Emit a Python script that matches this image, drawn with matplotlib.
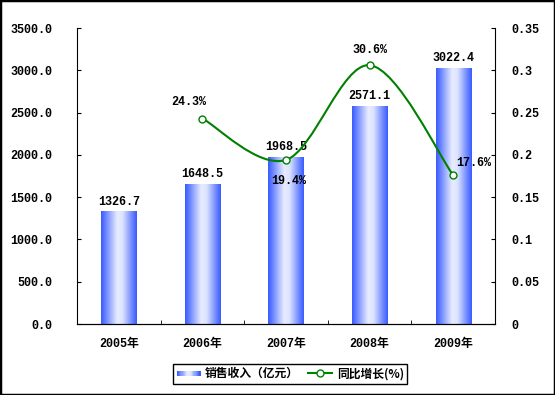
import numpy as np
import matplotlib
matplotlib.use('Agg')
import matplotlib.pyplot as plt
from matplotlib.path import Path
from matplotlib.patches import PathPatch, Rectangle
from matplotlib.lines import Line2D
from matplotlib.colors import LinearSegmentedColormap

plt.rcParams['font.family'] = ['Liberation Mono', 'Noto Sans CJK SC', 'DejaVu Sans']
plt.rcParams['font.weight'] = 'bold'
plt.rcParams['font.size'] = 8.5

# data
years = ['2005年', '2006年', '2007年', '2008年', '2009年']
sales = [1326.7, 1648.5, 1968.5, 2571.1, 3022.4]
growth = [None, 0.243, 0.194, 0.306, 0.176]
growth_labels = ['', '24.3%', '19.4%', '30.6%', '17.6%']
left_ticks = [0, 500, 1000, 1500, 2000, 2500, 3000, 3500]
right_ticks = [0, 0.05, 0.1, 0.15, 0.2, 0.25, 0.3, 0.35]
right_tick_labels = ['0', '0.05', '0.1', '0.15', '0.2', '0.25', '0.3', '0.35']

bar_cmap = LinearSegmentedColormap.from_list(
    'barg', [(0, '#3a5cff'), (0.45, '#e8ecff'), (0.6, '#dde4ff'), (1, '#3a5cff')])
green = '#008000'

fig = plt.figure(figsize=(5.55, 3.95), dpi=100)
ax = fig.add_axes([0.1387, 0.1797, 0.7532, 0.7494])
ax2 = ax.twinx()

x = np.arange(len(years))
bars = ax.bar(x, sales, width=0.42, color='none', edgecolor='none', zorder=2)
grad = np.linspace(0, 1, 64).reshape(1, -1)
for b in bars:
    bx, bw, bh = b.get_x(), b.get_width(), b.get_height()
    ax.imshow(grad, cmap=bar_cmap, extent=[bx, bx + bw, 0, bh],
              aspect='auto', zorder=2, interpolation='bicubic')
for xi, v in zip(x, sales):
    ax.annotate('%.1f' % v, (xi, v), xytext=(0, 3), textcoords='offset points',
                ha='center', va='bottom')

ax.set_xlim(-0.5, len(years) - 0.5)
ax.set_ylim(0, 3500)
ax.set_yticks(left_ticks)
ax.set_yticklabels(['%.1f' % t for t in left_ticks])
ax.set_xticks(x)
ax.set_xticklabels(years)
ax.set_xticks(np.arange(len(years) + 1) - 0.5, minor=True)
ax.tick_params(axis='x', which='major', length=0, pad=10)
ax.tick_params(axis='x', which='minor', direction='in', length=3)
ax.tick_params(axis='y', direction='in', length=3, pad=18)
ax.spines['top'].set_visible(False)
ax.spines['right'].set_visible(False)
ax2.spines['top'].set_visible(False)
ax2.spines['left'].set_visible(False)

# smooth growth line (Catmull-Rom through the points)
gx = [xi for xi, g in zip(x, growth) if g is not None]
gy = [g for g in growth if g is not None]
pts = list(zip(gx, gy))
verts = [pts[0]]
codes = [Path.MOVETO]
for i in range(len(pts) - 1):
    p0 = np.array(pts[max(i - 1, 0)])
    p1 = np.array(pts[i])
    p2 = np.array(pts[i + 1])
    p3 = np.array(pts[min(i + 2, len(pts) - 1)])
    c1 = p1 + (p2 - p0) / 6
    c2 = p2 - (p3 - p1) / 6
    verts += [tuple(c1), tuple(c2), tuple(p2)]
    codes += [Path.CURVE4] * 3
ax2.add_patch(PathPatch(Path(verts, codes), fill=False, ec=green, lw=1.5, zorder=3))
ax2.plot(gx, gy, ls='none', marker='o', ms=5, mfc='white', mec=green, mew=1, zorder=4)

offsets = {1: (-10, 12), 2: (2, -15), 3: (0, 11), 4: (15, 9)}
for i, (g, lab) in enumerate(zip(growth, growth_labels)):
    if g is None:
        continue
    ax2.annotate(lab, (x[i], g), xytext=offsets[i], textcoords='offset points',
                 ha='center', va='center')

ax2.set_ylim(0, 0.35)
ax2.set_yticks(right_ticks)
ax2.set_yticklabels(right_tick_labels)
ax2.tick_params(axis='y', direction='in', length=3, pad=12)


# legend with gradient swatch
class GradHandler:
    def legend_artist(self, legend, orig_handle, fontsize, handlebox):
        x0, y0 = handlebox.xdescent, handlebox.ydescent
        w, h = handlebox.width, handlebox.height
        n = 20
        for k in range(n):
            handlebox.add_artist(Rectangle((x0 + w * k / n, y0 + h * 0.2), w / n + 0.3, h * 0.6,
                                           color=bar_cmap(k / (n - 1)), lw=0,
                                           transform=handlebox.get_transform()))
        return handlebox


bar_handle = Rectangle((0, 0), 1, 1)
line_handle = Line2D([], [], color=green, lw=1.5, marker='o', ms=5, mfc='white', mec=green)
leg = fig.legend([bar_handle, line_handle], ['销售收入（亿元）', '同比增长(%)'],
                 loc='center', bbox_to_anchor=(0.523, 0.054), ncol=2,
                 handler_map={Rectangle: GradHandler()}, fancybox=False,
                 edgecolor='black', framealpha=1, handlelength=2.0, handletextpad=0.4,
                 columnspacing=0.8, borderpad=0.3,
                 prop={'family': ['Noto Sans CJK SC'], 'weight': 'bold', 'size': 8.5})
leg.get_frame().set_linewidth(1)

fig.patches.append(Rectangle((0, 0), 1, 1, transform=fig.transFigure, fill=False,
                             lw=2.5, ec='black'))

fig.savefig('out.png', dpi=100)
